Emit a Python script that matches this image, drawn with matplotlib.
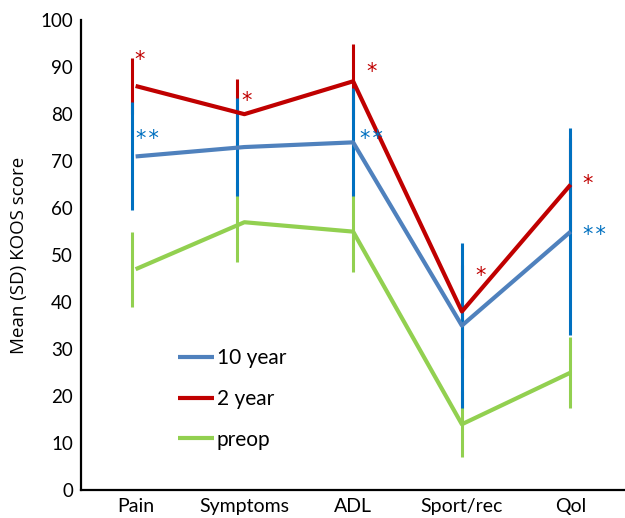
import matplotlib
matplotlib.use("Agg")
import matplotlib.pyplot as plt
import numpy as np

plt.rcParams['font.family'] = ['Lato', 'DejaVu Sans']

categories = ['Pain', 'Symptoms', 'ADL', 'Sport/rec', 'Qol']

# mean KOOS scores
ten_year = [71, 73, 74, 35, 55]
two_year = [86, 80, 87, 38, 65]
preop = [47, 57, 55, 14, 25]

# standard deviations
ten_year_sd = [11.5, 10.5, 11.5, 17.5, 22]
two_year_sd = [6, 7.5, 8, 10, 10]
preop_sd = [8, 8.5, 8.7, 7, 7.5]

# significance marks: (category index, y value, text)
stars_2yr = [(0, 92.8, '*'), (1, 84, '*'), (2, 90.2, '*'), (3, 46.8, '*'), (4, 66.4, '*')]
stars_10yr = [(0, 76, '**'), (2, 76, '**'), (4, 55.5, '**')]

c_blue = '#4F81BD'
c_blue_bar = '#0070C0'
c_red = '#C00000'
c_green = '#92D050'

fig = plt.figure(figsize=(6.25, 5.18), dpi=100)
ax = fig.add_axes([0.13, 0.054, 0.87, 0.907])

x = np.arange(len(categories))
bar_shift = np.array([-0.035, -0.065, 0.0, 0.0, -0.01])
xb = x + bar_shift

ax.errorbar(xb, two_year, yerr=two_year_sd, fmt='none', ecolor=c_red, elinewidth=2.2, capsize=0, zorder=1)
ax.errorbar(xb, preop, yerr=preop_sd, fmt='none', ecolor=c_green, elinewidth=2.2, capsize=0, zorder=2)
ax.errorbar(xb, ten_year, yerr=ten_year_sd, fmt='none', ecolor=c_blue_bar, elinewidth=2.2, capsize=0, zorder=3)

ax.plot(x, ten_year, color=c_blue, lw=3, label='10 year', zorder=4, solid_capstyle='butt')
ax.plot(x, two_year, color=c_red, lw=3, label='2 year', zorder=5, solid_capstyle='butt')
ax.plot(x, preop, color=c_green, lw=3, label='preop', zorder=4, solid_capstyle='butt')

# horizontal nudge of the marks, in category units
red_dx = [0.04, 0.02, 0.17, 0.17, 0.16]
blue_dx = [0.11, 0, 0.17, 0, 0.22]

for i, yv, s in stars_2yr:
    ax.text(i + red_dx[i], yv - 1.2, s, color=c_red, fontsize=15, family='DejaVu Sans',
            ha='center', va='center', zorder=10)
for i, yv, s in stars_10yr:
    ax.text(i + blue_dx[i], yv - 1.2, '\u200a'.join(s), color=c_blue_bar, fontsize=15,
            family='DejaVu Sans', ha='center', va='center', zorder=10)

ax.set_xlim(-0.5, 4.5)
ax.set_ylim(0, 100)
ax.set_yticks(range(0, 101, 10))
ax.set_xticks(x)
ax.set_xticklabels(categories)
ax.tick_params(axis='y', length=0, labelsize=13.5, pad=6)
ax.tick_params(axis='x', length=0, labelsize=14, pad=6)
ax.spines['top'].set_visible(False)
ax.spines['right'].set_visible(False)
ax.spines['left'].set_linewidth(1.6)
ax.spines['bottom'].set_linewidth(1.6)
ax.set_ylabel('Mean (SD) KOOS score', fontsize=13.5, family=['Open Sans', 'DejaVu Sans'])
ax.yaxis.set_label_coords(-0.098, 0.50)

ax.legend(loc='center left', bbox_to_anchor=(0.178, 0.194), frameon=False, fontsize=15,
          handlelength=1.75, handletextpad=0.1, labelspacing=1.0, borderpad=0, borderaxespad=0)

fig.savefig('out.png', dpi=100)
